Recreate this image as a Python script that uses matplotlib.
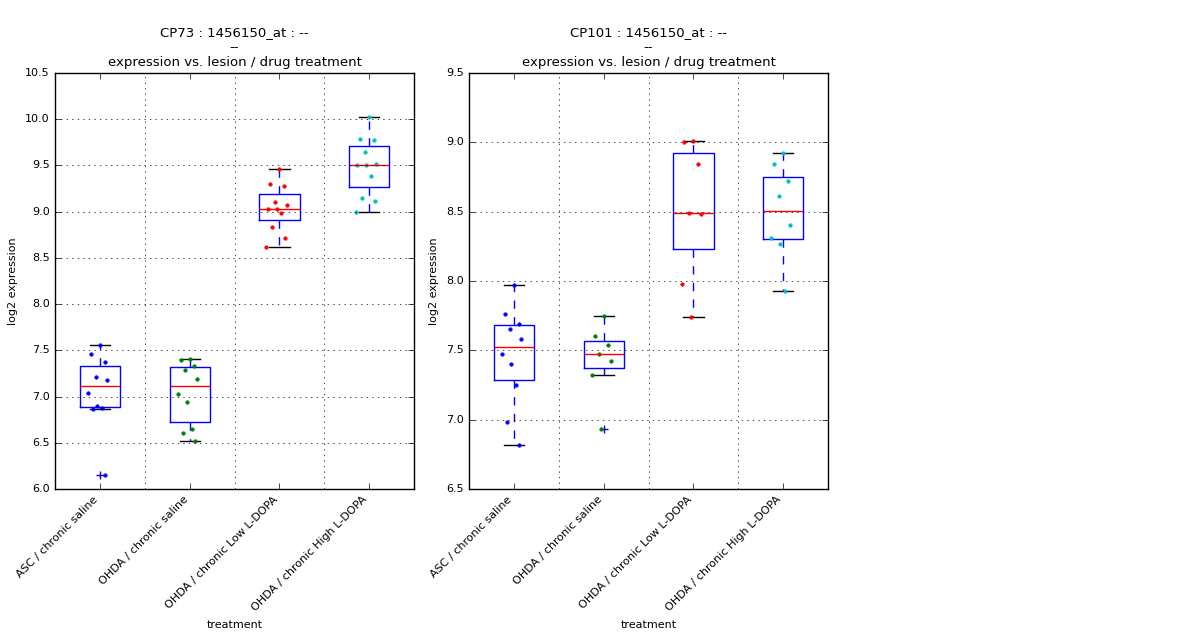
import matplotlib
matplotlib.use('Agg')
import matplotlib.pyplot as plt
import numpy as np

plt.style.use('classic')
plt.rcParams['figure.facecolor'] = 'white'
plt.rcParams['font.size'] = 8

groups = ['ASC / chronic saline', 'OHDA / chronic saline',
          'OHDA / chronic Low L-DOPA', 'OHDA / chronic High L-DOPA']
colors = ['b', 'g', 'r', 'c']

cp73 = [
    [7.56, 7.46, 7.37, 7.21, 7.18, 7.04, 6.90, 6.88, 6.86, 6.15],
    [7.41, 7.40, 7.33, 7.29, 7.19, 7.03, 6.94, 6.65, 6.61, 6.52],
    [9.46, 9.30, 9.28, 9.10, 9.07, 9.03, 9.03, 8.99, 8.83, 8.71, 8.62],
    [10.02, 9.79, 9.77, 9.65, 9.52, 9.50, 9.50, 9.39, 9.15, 9.11, 9.00],
]
cp101 = [
    [7.97, 7.76, 7.69, 7.65, 7.58, 7.47, 7.40, 7.25, 6.98, 6.82],
    [7.75, 7.60, 7.54, 7.47, 7.42, 7.32, 6.93],
    [9.01, 9.00, 8.84, 8.49, 8.48, 7.98, 7.74],
    [8.92, 8.84, 8.72, 8.61, 8.40, 8.31, 8.27, 7.93],
]
jitter = [0.0, -0.1, 0.05, -0.05, 0.08, -0.13, -0.03, 0.02, -0.08, 0.06, -0.15, 0.04]

panels = [('CP73', cp73, (6.0, 10.5)), ('CP101', cp101, (6.5, 9.5))]

fig = plt.figure(figsize=(12, 6.4), dpi=100)
lefts = [0.046, 0.391]
for (name, data, ylim), left in zip(panels, lefts):
    ax = fig.add_axes([left, 0.236, 0.299, 0.65])
    ax.boxplot(data, sym='b+')
    for i, vals in enumerate(data):
        xs = [i + 1 + jitter[k % len(jitter)] for k in range(len(vals))]
        ax.plot(xs, vals, '.', color=colors[i], markersize=5)
    ax.set_ylim(*ylim)
    ax.set_xlim(0.5, 4.5)
    ax.set_xticks(range(1, 5))
    ax.set_xticklabels(groups, rotation=45, ha='right')
    ax.set_xticks([1.5, 2.5, 3.5], minor=True)
    ax.tick_params(axis='x', which='minor', length=0)
    ax.grid(True, axis='y')
    ax.grid(True, axis='x', which='minor')
    ax.set_xlabel('treatment')
    ax.set_ylabel('log2 expression')
    ax.set_title(name + ' : 1456150_at : --\n--\nexpression vs. lesion / drug treatment',
                 fontsize=9.5)

fig.savefig('out.png', dpi=100)
